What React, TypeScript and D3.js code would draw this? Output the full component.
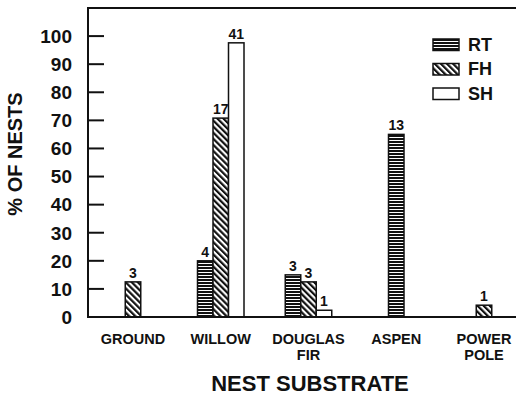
import React from "react";
import * as d3 from "d3";

const categories = ["GROUND", "WILLOW", "DOUGLAS FIR", "ASPEN", "POWER POLE"];
const categoryLines = [["GROUND"], ["WILLOW"], ["DOUGLAS", "FIR"], ["ASPEN"], ["POWER", "POLE"]];
const seriesNames = ["RT", "FH", "SH"];
const rtPct = [0, 20, 15, 65, 0];
const fhPct = [12.5, 70.8, 12.5, 0, 4.2];
const shPct = [0, 97.6, 2.4, 0, 0];
const rtN = [0, 4, 3, 13, 0];
const fhN = [3, 17, 3, 0, 1];
const shN = [0, 41, 1, 0, 0];
const yTicks = [0, 10, 20, 30, 40, 50, 60, 70, 80, 90, 100];

const W = 516;
const H = 396;
const FONT = "'Liberation Sans', Arial, Helvetica, sans-serif";
const fills = ["url(#rtPat)", "url(#fhPat)", "#fff"];

export default function App() {
  const left = 88;
  const right = 516;
  const y = d3.scaleLinear().domain([0, 110]).range([317, 8]);
  const x = d3.scalePoint<string>().domain(categories).range([133, 484]);
  const barW = 15.5;
  const pcts = [rtPct, fhPct, shPct];
  const ns = [rtN, fhN, shN];

  const bars: { key: string; x: number; y: number; h: number; s: number; n: number }[] = [];
  categories.forEach((c, i) => {
    const present = seriesNames.map((_, s) => s).filter((s) => pcts[s][i] > 0);
    const cx = x(c) as number;
    const start = cx - (present.length * barW) / 2;
    present.forEach((s, k) => {
      const v = pcts[s][i];
      bars.push({ key: c + s, x: start + k * barW, y: y(v), h: y(0) - y(v), s, n: ns[s][i] });
    });
  });

  return (
    <svg width={W} height={H} style={{ position: "absolute", left: 0, top: 0, background: "#fff" }} fontFamily={FONT}>
      <defs>
        <pattern id="rtPat" patternUnits="userSpaceOnUse" width="4" height="3">
          <rect width="4" height="3" fill="#111" />
          <rect y="2" width="4" height="1" fill="#fff" />
        </pattern>
        <pattern id="fhPat" patternUnits="userSpaceOnUse" width="4.3" height="4.3" patternTransform="rotate(-45)">
          <rect width="4.3" height="4.3" fill="#fff" />
          <rect width="2.2" height="4.3" fill="#111" />
        </pattern>
      </defs>
      <rect width={W} height={H} fill="#fff" />
      <line x1={left} x2={right} y1={y(110)} y2={y(110)} stroke="#111" strokeWidth={2} />
      <line x1={left} x2={left} y1={y(110) - 1} y2={y(0) + 1} stroke="#111" strokeWidth={2} />
      {yTicks.map((t) => (
        <g key={t}>
          <line x1={left} x2={left + 16} y1={y(t)} y2={y(t)} stroke="#111" strokeWidth={2} />
          <text x={72} y={y(t)} dy="0.36em" textAnchor="end" fontSize={19} fontWeight="bold" fill="#111">
            {t}
          </text>
        </g>
      ))}
      {bars.map((b) => (
        <g key={b.key}>
          <rect x={b.x} y={b.y} width={barW} height={b.h} fill={fills[b.s]} stroke="#111" strokeWidth={1.5} />
          <text x={b.x + barW / 2} y={b.y - 4} textAnchor="middle" fontSize={14} fontWeight="bold" fill="#111">
            {b.n}
          </text>
        </g>
      ))}
      <line x1={left} x2={right} y1={y(0)} y2={y(0)} stroke="#111" strokeWidth={2} />
      {categories.map((c, i) =>
        categoryLines[i].map((l, j) => (
          <text key={c + l} x={x(c)} y={344 + j * 16} textAnchor="middle" fontSize={14.5} fontWeight="bold" fill="#111">
            {l}
          </text>
        ))
      )}
      <text x={310} y={391} textAnchor="middle" fontSize={22} fontWeight="bold" fill="#111">
        NEST SUBSTRATE
      </text>
      <text transform={`translate(22, 154) rotate(-90)`} textAnchor="middle" fontSize={20} fontWeight="bold" fill="#111">
        % OF NESTS
      </text>
      {seriesNames.map((s, i) => (
        <g key={s} transform={`translate(433, ${39 + i * 24.5})`}>
          <rect width={26} height={11.5} fill={fills[i]} stroke="#111" strokeWidth={1.5} />
          <text x={35} y={11.5} fontSize={18} fontWeight="bold" fill="#111">
            {s}
          </text>
        </g>
      ))}
    </svg>
  );
}
